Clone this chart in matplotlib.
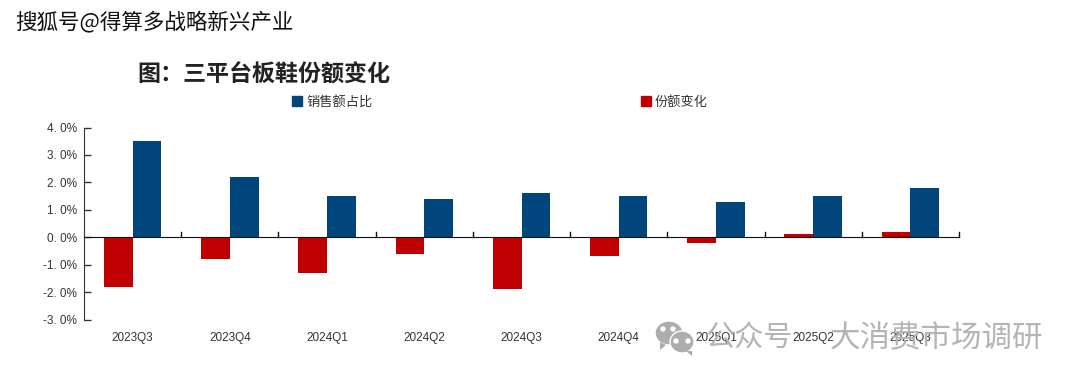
import numpy as np
import matplotlib
matplotlib.use('Agg')
import matplotlib.pyplot as plt
from matplotlib.patches import Ellipse, Polygon, Rectangle

plt.rcParams['font.family'] = ['Noto Sans CJK SC', 'DejaVu Sans']

W, H = 1080, 381

quarters = ['2023Q3', '2023Q4', '2024Q1', '2024Q2', '2024Q3', '2024Q4', '2025Q1', '2025Q2', '2025Q3']
sales_share = [3.5, 2.2, 1.5, 1.4, 1.6, 1.5, 1.3, 1.5, 1.8]
share_change = [-1.8, -0.8, -1.3, -0.6, -1.9, -0.7, -0.2, 0.1, 0.2]
y_ticks = [-3, -2, -1, 0, 1, 2, 3, 4]

blue = '#00457c'
red = '#c00000'
dark = '#333333'
grey = '#b4b4b4'


def to_fig(px, py):
    return px / W, 1 - py / H


fig = plt.figure(figsize=(W / 100, H / 100), dpi=100)

# watermark goes under the axes so the quarter labels print over it
tx, ty = to_fig(706, 339)
fig.text(tx, ty, '公众号', fontsize=21, color=grey, va='center', zorder=0)
tx, ty = to_fig(830, 339)
fig.text(tx, ty, '大消费市场调研', fontsize=22, color=grey, va='center', zorder=0)
for cx, cy, ew, eh in [(669, 333, 28, 24), (682, 342, 24, 22)]:
    fx, fy = to_fig(cx, cy)
    fig.patches.append(Ellipse((fx, fy), ew / W, eh / H, fc='#adadad', ec='white', lw=1,
                               transform=fig.transFigure, zorder=0))
for pts in [[(660, 342), (666, 345), (660, 350)], [(686, 351), (692, 351), (692, 356)]]:
    fig.patches.append(Polygon([to_fig(*p) for p in pts], fc='#adadad', ec='none',
                               transform=fig.transFigure, zorder=0))
for cx, cy in [(663, 329), (673, 329), (676, 341), (688, 341)]:
    fx, fy = to_fig(cx, cy)
    fig.patches.append(Ellipse((fx, fy), 4 / W, 4 / H, color='white', transform=fig.transFigure, zorder=0))

left, right, top, bottom = 84, 959, 127.5, 319.5
ax = fig.add_axes([left / W, 1 - bottom / H, (right - left) / W, (bottom - top) / H])
ax.patch.set_alpha(0)

x = np.arange(len(quarters))
bar_w = 0.295
ax.bar(x - bar_w / 2, share_change, bar_w, color=red)
ax.bar(x + bar_w / 2, sales_share, bar_w, color=blue)

ax.set_xlim(-0.5, len(quarters) - 0.5)
ax.set_ylim(-3, 4)
ax.set_yticks(y_ticks)
ax.set_yticklabels([('%.1f%%' % v).replace('.', '. ') for v in y_ticks], fontsize=8.5,
                   color=dark, family='Liberation Sans')
ax.tick_params(axis='y', direction='in', length=5, width=1, pad=5, color=dark)

# category axis sits on zero, labels stay below the plot
for s in ['top', 'right']:
    ax.spines[s].set_visible(False)
ax.spines['left'].set_color(dark)
ax.spines['bottom'].set_position(('data', 0))
ax.spines['bottom'].set_color('#111111')
ax.set_xticks([])
for t in np.arange(1, len(quarters) + 1) - 0.5:
    ax.plot([t, t], [0, 0.2], color='#111111', lw=1, clip_on=False)
for i, q in enumerate(quarters):
    ax.annotate(q, (x[i], -3), xytext=(0, -13.5), textcoords='offset points', ha='center',
                va='center', fontsize=8.5, color=dark, family='Liberation Sans', annotation_clip=False)

# titles and legend
tx, ty = to_fig(15, 23)
fig.text(tx, ty, '搜狐号@得算多战略新兴产业', fontsize=15.5, fontweight='medium', color='#111111', va='center')
tx, ty = to_fig(137, 75)
fig.text(tx, ty, '图：三平台板鞋份额变化', fontsize=16.6, fontweight='bold', color='#222222', va='center')

for px, colour, label in [(292, blue, '销售额占比'), (641, red, '份额变化')]:
    fx, fy = to_fig(px, 106)
    fig.patches.append(Rectangle((fx, fy), 10 / W, 10 / H, color=colour, transform=fig.transFigure))
    tx, ty = to_fig(px + 14, 102)
    fig.text(tx, ty, label, fontsize=9.5, color=dark, va='center')

fig.savefig('out.png', dpi=100)
